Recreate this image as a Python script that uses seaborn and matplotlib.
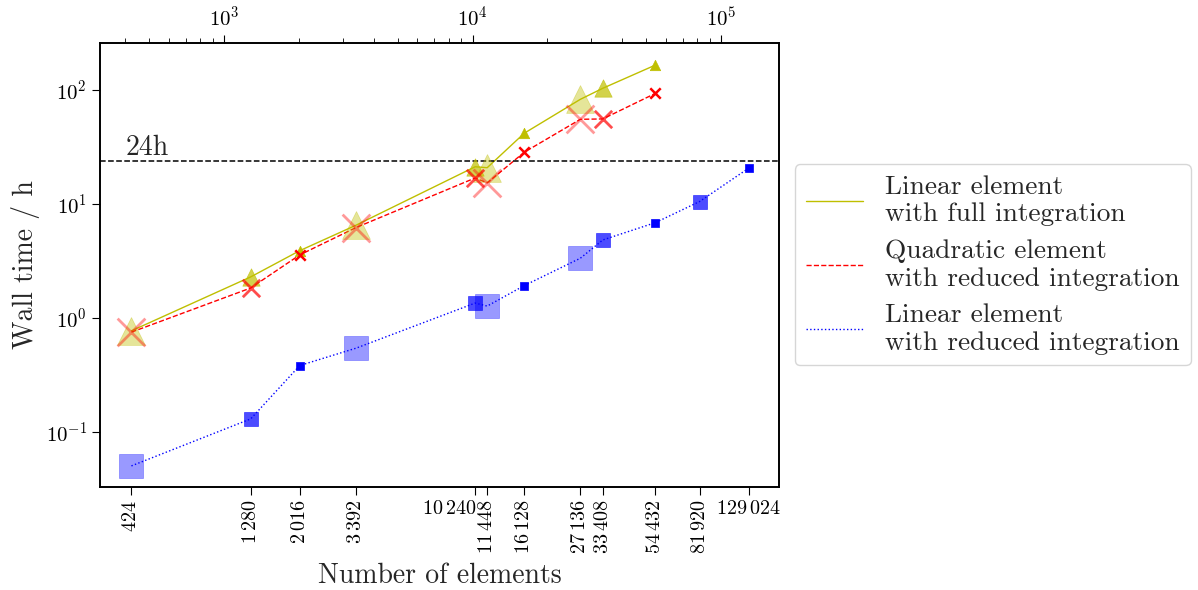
import numpy as np
import pandas as pd
import matplotlib
matplotlib.use("Agg")
import matplotlib.pyplot as plt
import matplotlib.transforms as mtransforms
from matplotlib.ticker import NullLocator, FixedLocator, FixedFormatter
import seaborn as sns

# ---------------- data ----------------
n_elements = [424, 1280, 2016, 3392, 10240, 11448, 16128, 27136, 33408, 54432, 81920, 129024]
tick_labels = [r"$424$", r"$1\,280$", r"$2\,016$", r"$3\,392$", r"$10\,240$", r"$11\,448$",
               r"$16\,128$", r"$27\,136$", r"$33\,408$", r"$54\,432$", r"$81\,920$", r"$129\,024$"]
size_class = ["big", "medium", "small", "big", "medium", "big", "small", "big", "medium",
              "small", "medium", "small"]
linear_full = [0.77, 2.29, 3.89, 6.5, 21.2, 20.8, 41.7, 82.8, 103.5, 165.6, np.nan, np.nan]
quad_reduced = [0.75, 1.83, 3.57, 6.2, 16.9, 15.3, 28.4, 55.3, 55.7, 93.5, np.nan, np.nan]
linear_reduced = [0.0503, 0.130, 0.382, 0.542, 1.35, 1.27, 1.92, 3.34, 4.83, 6.86, 10.5, 20.6]
series_names = ["Linear element\nwith full integration",
                "Quadratic element\nwith reduced integration",
                "Linear element\nwith reduced integration"]
limit_hours = 24

# ---------------- style ----------------
sns.set_style("ticks")
plt.rcParams.update({
    "font.family": "serif",
    "font.serif": ["cmr10"],
    "mathtext.fontset": "cm",
    "axes.formatter.use_mathtext": True,
    "axes.unicode_minus": False,
    "axes.edgecolor": "black",
    "axes.linewidth": 1.2,
    "xtick.color": "black",
    "ytick.color": "black",
    "xtick.major.size": 6,
    "ytick.major.size": 6,
    "xtick.minor.size": 3.5,
    "ytick.minor.size": 3.5,
})

fig = plt.figure(figsize=(11.98, 5.90), dpi=100)
ax = fig.add_axes([0.0835, 0.175, 0.5668, 0.752])
ax.set_xscale("log")
ax.set_yscale("log")

df = pd.DataFrame({"n": n_elements, "size": size_class,
                   "lf": linear_full, "qr": quad_reduced, "lr": linear_reduced})

styles = [("lf", (0.75, 0.75, 0.0), "-", "^"),
          ("qr", (1.0, 0.0, 0.0), "--", "x"),
          ("lr", (0.0, 0.0, 1.0), ":", "s")]
msize = {"big": 20, "medium": 12.5, "small": 7.5}
malpha = {"big": 0.4, "medium": 0.7, "small": 1.0}

for (col, color, ls, mk), name in zip(styles, series_names):
    sub = df.dropna(subset=[col])
    sns.lineplot(data=sub, x="n", y=col, color=color, linestyle=ls, linewidth=1.0,
                 label=name, ax=ax, sort=True, estimator=None)
    for cls in ["big", "medium", "small"]:
        part = sub[sub["size"] == cls]
        if len(part) == 0:
            continue
        ms = msize[cls] * (0.85 if mk == "s" else 1.0)
        if mk == "x":
            sns.scatterplot(data=part, x="n", y=col, marker="x", s=ms ** 2,
                            color=color, alpha=malpha[cls], linewidth=2.0 if cls != "small" else 1.8,
                            ax=ax, legend=False, zorder=3)
        else:
            sns.scatterplot(data=part, x="n", y=col, marker=mk, s=ms ** 2,
                            color=color, edgecolor=color, alpha=malpha[cls], linewidth=0.5,
                            ax=ax, legend=False, zorder=3)

ax.axhline(limit_hours, color="black", linestyle="--", linewidth=1.1)
ax.text(0.037, limit_hours, "24h", transform=ax.get_yaxis_transform(),
        fontsize=20, va="bottom", ha="left")

xlim = (317, 171000)
ax.set_xlim(*xlim)
ax.set_ylim(0.033, 258)

ax.xaxis.set_major_locator(FixedLocator(n_elements))
ax.xaxis.set_major_formatter(FixedFormatter(tick_labels))
ax.xaxis.set_minor_locator(NullLocator())
ax.tick_params(axis="x", labelrotation=90, labelsize=14.5)
ax.tick_params(axis="y", labelsize=15)
ax.yaxis.set_minor_locator(NullLocator())

ax.set_xlabel("Number of elements", fontsize=20, labelpad=6)
ax.set_ylabel("Wall time / h", fontsize=20)

ax2 = ax.twiny()
ax2.set_xscale("log")
ax2.set_xlim(*xlim)
ax2.tick_params(axis="x", labelsize=15)

leg = ax.legend(loc="center left", bbox_to_anchor=(1.003, 0.5), fontsize=19.7,
                handlelength=2.1, frameon=True, fancybox=True, framealpha=0.8,
                edgecolor="0.8", borderpad=0.4, labelspacing=0.47)

# the two crowded labels are written horizontally in the reference
fig.canvas.draw()
for lbl in ax.get_xticklabels():
    txt = lbl.get_text()
    if txt == r"$10\,240$":
        lbl.set_rotation(0)
        lbl.set_ha("right")
        lbl.set_transform(lbl.get_transform() +
                          mtransforms.ScaledTranslation(1 / 100, 0, fig.dpi_scale_trans))
    elif txt == r"$129\,024$":
        lbl.set_rotation(0)
        lbl.set_ha("center")

fig.savefig("out.png", dpi=100)
